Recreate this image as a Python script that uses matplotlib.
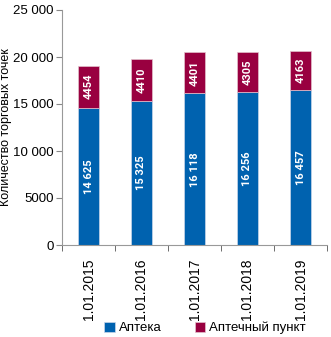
import matplotlib
matplotlib.use("Agg")
import matplotlib.pyplot as plt

plt.rcParams['font.family'] = ['Liberation Sans', 'DejaVu Sans']

categories = ["1.01.2015", "1.01.2016", "1.01.2017", "1.01.2018", "1.01.2019"]
apteka = [14625, 15325, 16118, 16256, 16457]
punkt = [4454, 4410, 4401, 4305, 4163]
apteka_labels = ["14 625", "15 325", "16 118", "16 256", "16 457"]
punkt_labels = ["4454", "4410", "4401", "4305", "4163"]
yticks = [0, 5000, 10000, 15000, 20000, 25000]
ytick_labels = ["0", "5000", "10 000", "15 000", "20 000", "25 000"]

blue = "#0062AF"
red = "#990040"

fig = plt.figure(figsize=(3.31, 3.37), dpi=100)
ax = fig.add_axes([62/331, 1-245/337, 265/331, 235/337])

x = list(range(len(categories)))
b1 = ax.bar(x, apteka, width=0.4, color=blue, edgecolor="#c9d6ea", linewidth=0.5, label="Аптека")
b2 = ax.bar(x, punkt, bottom=apteka, width=0.4, color=red, edgecolor="#e3c2cc", linewidth=0.5, label="Аптечный пункт")

for i in x:
    ax.text(i, apteka[i]/2, apteka_labels[i], rotation=90, ha="center", va="center",
            color="white", fontsize=8, fontweight="bold", family=["Roboto", "DejaVu Sans"])
    ax.text(i, apteka[i] + punkt[i]/2, punkt_labels[i], rotation=90, ha="center", va="center",
            color="white", fontsize=8, fontweight="bold", family=["Roboto", "DejaVu Sans"])

ax.set_xlim(-0.5, len(categories) - 0.5)
ax.set_ylim(0, 25000)
ax.set_yticks(yticks)
ax.set_yticklabels(ytick_labels, fontsize=9.5)
ax.set_xticks(x)
ax.set_xticklabels(categories, rotation=90, fontsize=10, va="top")
ax.set_xticks([i - 0.5 for i in range(len(categories) + 1)], minor=True)
ax.tick_params(axis="x", which="major", length=0, pad=10)
ax.tick_params(axis="x", which="minor", length=4, color="#555555", direction="out")
ax.tick_params(axis="y", length=4, color="#888888", pad=2)

for s in ["top", "right"]:
    ax.spines[s].set_visible(False)
ax.spines["left"].set_color("#999999")
ax.spines["bottom"].set_color("#999999")

ax.set_ylabel("Количество торговых точек", fontsize=9)
ax.yaxis.set_label_coords(-50/265, 0.5)

fig.legend(handles=[b1, b2], loc="center", bbox_to_anchor=(205/331, 1-328/337), ncol=2,
           frameon=False, fontsize=9.5, handlelength=0.8, handleheight=0.8,
           handletextpad=0.3, columnspacing=2.5)

fig.savefig("out.png", dpi=100)
